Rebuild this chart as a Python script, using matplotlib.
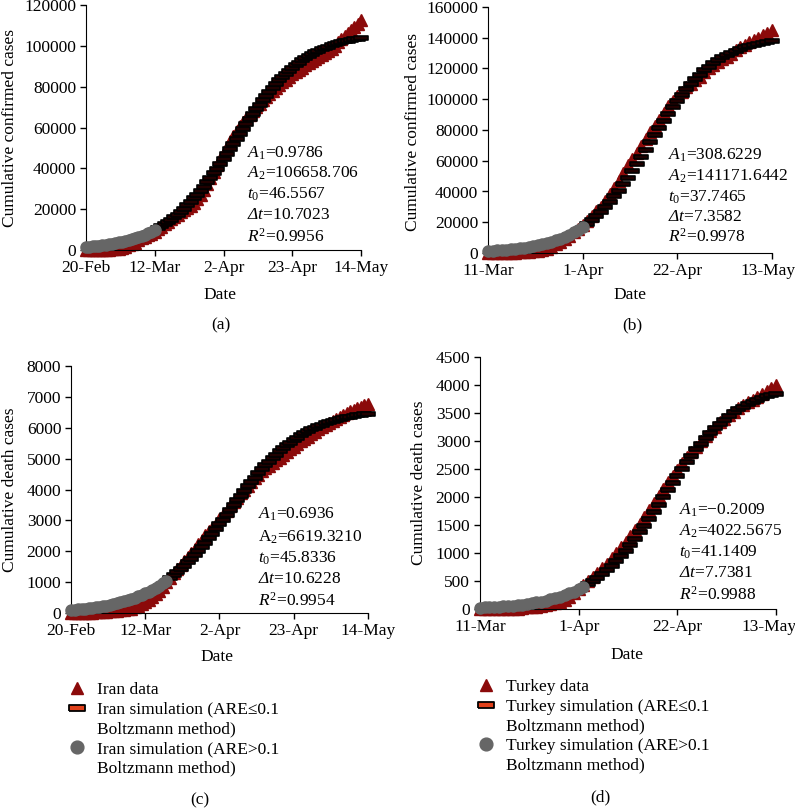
import matplotlib
matplotlib.use("Agg")
import pandas as pd
import matplotlib.pyplot as plt
import matplotlib.transforms as mtransforms
from matplotlib.lines import Line2D

plt.rcParams["font.family"] = ["Liberation Serif", "DejaVu Serif"]
plt.rcParams["mathtext.fontset"] = "custom"
plt.rcParams["mathtext.rm"] = "Liberation Serif"
plt.rcParams["mathtext.it"] = "Liberation Serif:italic"
plt.rcParams["mathtext.sf"] = "Liberation Serif:italic"  # used for an italic Delta
plt.rcParams["font.size"] = 12

# ---- data (daily values) ----
IRAN_START = "2020-02-20"
TURKEY_START = "2020-03-11"

IRAN_CASES = [
    2, 5, 18, 28, 43, 61, 95, 139, 245, 388, 593,
    978, 1501, 2336, 2922, 3513, 4747, 5823, 6566, 7161, 8042, 9000, 10075, 11364,
    12729, 13938, 14991, 16169, 17361, 18407, 19644, 20610, 21638, 23049, 24811,
    27017, 29406, 32332, 35408, 38309, 41495, 44605,
    47593, 50468, 53183, 55743, 58226, 60500, 62589, 64586, 66220, 68192, 70029,
    71686, 73303, 74877, 76389, 77995, 79494, 80868, 82211, 83505, 84802, 85996,
    87026, 88194, 89328, 90481, 91472, 92584, 93657, 94640,
    95646, 96448, 97424, 98647, 99970, 101650, 103135, 104691, 106220, 107603,
    109286, 110767, 112725,
]
IRAN_CASES_SIM = [
    1491, 1635, 1792, 1964, 2153, 2360, 2585, 2832, 3100, 3396, 3714, 4067, 4447,
    4866, 5317, 5810, 6344, 6928, 7555, 8242, 8977, 9777,
    10644, 11574, 12572, 13644, 14800, 16032, 17343, 18753, 20233, 21822, 23487,
    25236, 27080, 29022, 30985, 33086, 35251, 37481, 39784, 42152, 44551, 46994,
    49458, 51943,
    54439, 56923, 59398, 61841, 64251, 66607, 68923, 71163, 73339, 75451, 77466,
    79408, 81264, 83023, 84698, 86287, 87780, 89188, 90510, 91747, 92909, 93987,
    94989, 95928, 96803, 97603, 98360, 99032, 99672, 100258, 100792, 101293,
    101752, 102168, 102552, 102904, 103234, 103522, 103800,
]
IRAN_CASES_N_HIGH_ARE = 22

IRAN_DEATHS = [
    2, 2, 4, 5, 8, 12, 16, 19, 26, 34, 43,
    54, 66, 77, 92, 107, 124, 145, 194, 237, 291, 354, 429, 514, 611, 724, 853,
    988, 1135, 1284, 1433, 1556, 1685, 1812, 1934, 2077, 2234, 2378, 2517, 2640,
    2757, 2898,
    3036, 3160, 3294, 3452, 3603, 3739, 3872, 3993, 4110, 4232, 4357, 4474, 4585,
    4683, 4777, 4869, 4958, 5031, 5118, 5209, 5297, 5391, 5481, 5574, 5650, 5710,
    5806, 5877, 5957, 6028,
    6091, 6156, 6203, 6277, 6340, 6418, 6486, 6541, 6589, 6640, 6685, 6733, 6783,
]
IRAN_DEATHS_SIM = [
    97, 106, 116, 127, 139, 153, 167, 183, 201, 220, 241, 264, 288, 316, 345, 377,
    412, 450, 491, 535, 584, 636, 692, 752, 817, 887, 962, 1042, 1127, 1218, 1314,
    1416, 1524, 1637, 1755, 1879, 2008, 2143, 2281, 2424, 2570, 2720, 2871, 3025,
    3180, 3336, 3491, 3646, 3800, 3951, 4100, 4244, 4386, 4523, 4656, 4783, 4905,
    5022, 5133, 5239, 5339, 5433, 5522, 5606, 5684, 5757, 5825, 5888, 5947, 6002,
    6053, 6100, 6143, 6183, 6219, 6254, 6285, 6313, 6340, 6364, 6386, 6406, 6425,
    6442, 6458,
]
IRAN_DEATHS_N_HIGH_ARE = 28

TURKEY_CASES = [
    1, 5, 6, 18, 47, 98, 191, 359, 670, 947, 1236, 1529, 1872, 2433, 3629, 5698,
    7402, 9217, 10827, 13531,
    15679, 18135, 20921, 23934, 27069, 30217, 34109, 38226, 42282, 47029, 52167,
    56956, 61049, 65111, 69392, 74193, 78546, 82329, 86306, 90980, 95591, 98674,
    101790, 104912, 107773, 110130, 112261, 114653, 117589, 120204,
    122392, 124375, 126045, 127659, 129491, 131744, 133721, 135569, 137115,
    138657, 139771, 141475, 143114, 144749,
]
TURKEY_CASES_SIM = [
    1394, 1551, 1730, 1934, 2167, 2435, 2739, 3085, 3478, 3929, 4441, 5021, 5683,
    6430, 7279, 8235, 9317, 10533, 11898, 13429, 15128,
    17029, 19142, 21467, 24044, 26848, 29904, 33201, 36750, 40539, 44554, 48780,
    53189, 57739, 62415, 67163, 71952, 76727, 81446, 86066, 90546, 94871, 98984,
    102886, 106562, 109985, 113154, 116084, 118775, 121212, 123423, 125423,
    127227, 128847, 130297, 131579, 132734, 133748, 134650, 135439, 136143,
    136763, 137312, 137793,
]
TURKEY_CASES_N_HIGH_ARE = 22

TURKEY_DEATHS = [
    0, 0, 0, 0, 0, 1, 2, 3, 4, 9, 30, 37, 44, 59, 75, 92, 108, 131, 168, 214,
    277, 356, 425, 501, 574, 649, 725, 812, 908, 1006, 1101, 1198, 1296, 1403,
    1518, 1643, 1769, 1890, 2017, 2140, 2259, 2376, 2491, 2600, 2706, 2805, 2900,
    2992, 3081, 3174,
    3258, 3336, 3397, 3461, 3520, 3584, 3641, 3689, 3739, 3786, 3841, 3894, 3952,
    4007,
]
TURKEY_DEATHS_SIM = [
    25, 29, 33, 37, 42, 48, 55, 62, 70, 80, 91, 103, 117, 132, 150, 170, 192, 217,
    246, 277, 312, 352, 396, 444, 498, 557, 622, 693, 771, 854, 944, 1041, 1144,
    1253, 1367, 1485, 1609, 1735, 1863, 1993, 2123, 2252, 2378, 2503, 2623, 2738,
    2849, 2953, 3051, 3144, 3229, 3308, 3381, 3448, 3509, 3564, 3614, 3659, 3699,
    3736, 3768, 3797, 3823, 3847,
]
TURKEY_DEATHS_N_HIGH_ARE = 23

IRAN_TICK_DATES = ["2020-02-20", "2020-03-12", "2020-04-02", "2020-04-23", "2020-05-14"]
IRAN_TICK_LABELS = ["20-Feb", "12-Mar", "2-Apr", "23-Apr", "14-May"]
TURKEY_TICK_DATES = ["2020-03-11", "2020-04-01", "2020-04-22", "2020-05-13"]
TURKEY_TICK_LABELS = ["11-Mar", "1-Apr", "22-Apr", "13-May"]

DELTA = r"$\mathsf{\Delta}\mathit{t}$"
PARAMS_A = [r"$A_1$=0.9786", r"$A_2$=106658.706", r"$t_0$=46.5567",
            DELTA + "=10.7023", r"$R^2$=0.9956"]
PARAMS_B = [r"$A_1$=308.6229", r"$A_2$=141171.6442", r"$t_0$=37.7465",
            DELTA + "=7.3582", r"$R^2$=0.9978"]
PARAMS_C = [r"$A_1$=0.6936", r"$\mathrm{A}_2$=6619.3210", r"$t_0$=45.8336",
            DELTA + "=10.6228", r"$R^2$=0.9954"]
PARAMS_D = ["$A_1$=\u22120.2009", r"$A_2$=4022.5675", r"$t_0$=41.1409",
            DELTA + "=7.7381", r"$R^2$=0.9988"]

RED = "#8b0a0a"
GRAY = "#666666"
FILL = "#e0401a"
DASH = [(-1, -0.24), (1, -0.24), (1, 0.24), (-1, 0.24), (-1, -0.24)]

W, H = 795, 808
fig = plt.figure(figsize=(W / 100, H / 100), dpi=100)


def px_axes(left, top, right, bottom):
    return fig.add_axes([left / W, 1 - bottom / H, (right - left) / W, (bottom - top) / H])


def fx(x):
    return x / W


def fy(y):
    return 1 - y / H


def draw_panel(ax, start, data, sim, n_high, tick_dates, tick_labels, ymax, ystep, country,
               last_shift=0):
    dates = pd.date_range(start, periods=len(data), freq="D")
    ax.plot(dates, data, ls="none", marker="^", ms=8, color=RED, clip_on=False,
            label=f"{country} data", zorder=2)
    ax.plot(dates[n_high:], sim[n_high:], ls="none", marker=DASH, ms=9.5,
            mfc="#200000", mec="black", mew=1.2, clip_on=False,
            label=f"{country} simulation (ARE\u22640.1", zorder=3)
    ax.plot(dates[:n_high], sim[:n_high], ls="none", marker="o", ms=8, color=GRAY,
            clip_on=False, label=f"{country} simulation (ARE>0.1", zorder=3)
    ax.set_xlim(dates[0], dates[-1])
    ax.set_ylim(0, ymax)
    ax.set_xticks(pd.to_datetime(tick_dates))
    ax.set_xticklabels(tick_labels)
    ax.set_yticks(range(0, ymax + 1, ystep))
    ax.spines["top"].set_visible(False)
    ax.spines["right"].set_visible(False)
    ax.tick_params(direction="out", length=4, width=1, labelsize=12.5, pad=3)
    if last_shift:
        lab = ax.get_xticklabels()[-1]
        lab.set_transform(lab.get_transform() +
                          mtransforms.ScaledTranslation(last_shift / 100, 0, fig.dpi_scale_trans))
    return ax


ax_a = px_axes(86, 5, 361, 250)
draw_panel(ax_a, IRAN_START, IRAN_CASES, IRAN_CASES_SIM, IRAN_CASES_N_HIGH_ARE,
           IRAN_TICK_DATES, IRAN_TICK_LABELS, 120000, 20000, "Iran")
ax_b = px_axes(488, 7, 772, 253)
draw_panel(ax_b, TURKEY_START, TURKEY_CASES, TURKEY_CASES_SIM, TURKEY_CASES_N_HIGH_ARE,
           TURKEY_TICK_DATES, TURKEY_TICK_LABELS, 160000, 20000, "Turkey", last_shift=-4)
ax_c = px_axes(71, 366, 368, 613)
draw_panel(ax_c, IRAN_START, IRAN_DEATHS, IRAN_DEATHS_SIM, IRAN_DEATHS_N_HIGH_ARE,
           IRAN_TICK_DATES, IRAN_TICK_LABELS, 8000, 1000, "Iran")
ax_d = px_axes(480, 357, 776, 609)
draw_panel(ax_d, TURKEY_START, TURKEY_DEATHS, TURKEY_DEATHS_SIM, TURKEY_DEATHS_N_HIGH_ARE,
           TURKEY_TICK_DATES, TURKEY_TICK_LABELS, 4500, 500, "Turkey", last_shift=-7)

# y labels, x labels, panel letters
for x, y, txt in [(10, 128, "Cumulative confirmed cases"), (413, 132, "Cumulative confirmed cases"),
                  (10, 490, "Cumulative death cases"), (419, 483, "Cumulative death cases")]:
    fig.text(fx(x), fy(y), txt, rotation=90, ha="center", va="center", fontsize=12.5)
for x, y in [(220, 295), (630, 295), (217, 657), (627, 655)]:
    fig.text(fx(x), fy(y), "Date", ha="center", va="center", fontsize=12.5)
for x, y, txt in [(221, 325, "(a)"), (632, 325, "(b)"), (200, 800, "(c)"), (600, 797, "(d)")]:
    fig.text(fx(x), fy(y), txt, ha="center", va="center", fontsize=12.5)

# fitted parameters
for x, ys, params in [(247, [153, 173, 194, 215, 237], PARAMS_A),
                      (668, [155, 176, 197, 217, 237], PARAMS_B),
                      (258, [514, 537, 558, 579, 601], PARAMS_C),
                      (679, [510, 531, 552, 573, 595], PARAMS_D)]:
    for y, p in zip(ys, params):
        fig.text(fx(x), fy(y), p, ha="left", va="center", fontsize=12.5)

# legends: second line of each simulation label gets an empty handle
blank = Line2D([], [], ls="none", marker="none")
dash_key = Line2D([], [], ls="none", marker=[(-1, -0.4), (1, -0.4), (1, 0.4), (-1, 0.4), (-1, -0.4)],
                  ms=10, mfc=FILL, mec="black", mew=1.3)
for ax, x, y in [(ax_c, 67, 682), (ax_d, 476, 679)]:
    handles, labels = ax.get_legend_handles_labels()
    handles = [handles[0], dash_key, blank, handles[2], blank]
    labels = [labels[0], labels[1], "Boltzmann method)", labels[2], "Boltzmann method)"]
    ax.legend(handles, labels, loc="upper left", bbox_to_anchor=(fx(x), fy(y)),
              bbox_transform=fig.transFigure, frameon=False, borderpad=0,
              borderaxespad=0, handlelength=1.2, handletextpad=0.5,
              labelspacing=0.2, fontsize=12.5, markerscale=1.15)

fig.savefig("out.png", dpi=100)
